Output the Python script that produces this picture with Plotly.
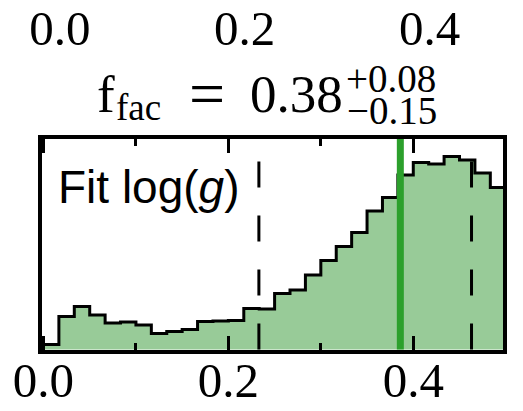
import numpy as np
import plotly.graph_objects as go

# Posterior histogram of the facula filling factor (30 bins over [0, 0.5])
bin_lo, bin_hi, n_bins = 0.0, 0.5, 30
counts = [7, 35, 45, 36.5, 28.5, 29.5, 26.5, 18, 20, 22,
          30, 30.5, 31, 43, 42.5, 58, 61.5, 76.5, 91, 105,
          119, 140.5, 154, 176.5, 189, 187.5, 195, 191.5, 178.5, 164]

# 16th / 50th / 84th percentiles and the reference value
q16, q50, q84 = 0.233, 0.383, 0.463
truth = 0.386

tick_vals = [0.0, 0.2, 0.4]
tick_text = ["0.0", "0.2", "0.4"]
panel_label = "Fit log(<i>g</i>)"

W, H = 523, 411
SERIF = "Liberation Serif"
SANS = "Liberation Sans"
FILL = "#98cb98"
GREEN = "#2ca02c"
TICK_SIZE = 49

edges = np.linspace(bin_lo, bin_hi, n_bins + 1)
step_y = list(counts) + [counts[-1]]
ymax = 1.1 * max(counts)

# plot-area geometry in pixels (axis lines are drawn just outside the area)
LW = 4
x_left, x_right = 41.5, 503.0
y_top, y_bot = 139.0, 349.5
px_per_unit = 932.5
x_range = [-(LW / 2) / px_per_unit, (x_right - x_left + LW / 2) / px_per_unit]
y_unit = ymax / ((y_bot - y_top) + LW)
y_range = [LW / 2 * y_unit, ymax - LW / 2 * y_unit]
top_shift = 16.5 / px_per_unit   # upper tick row sits a little to the right

fig = go.Figure()
fig.add_trace(go.Scatter(
    x=edges, y=step_y, mode="lines", line_shape="hv",
    line=dict(color="black", width=3),
    fill="tozeroy", fillcolor=FILL, hoverinfo="skip", showlegend=False,
))
# empty trace so the upper tick-label axis gets drawn
fig.add_trace(go.Scatter(x=[None], y=[None], xaxis="x2", yaxis="y",
                         mode="lines", hoverinfo="skip", showlegend=False))

shapes = []
for q in (q16, q84):
    shapes.append(dict(type="line", xref="x", yref="y domain", x0=q, x1=q, y0=0, y1=1,
                       line=dict(color="black", width=3, dash="26px,28px"), layer="above"))
shapes.append(dict(type="line", xref="x", yref="y domain", x0=truth, x1=truth, y0=0, y1=1,
                   line=dict(color=GREEN, width=7), layer="above"))


def px(xp):
    return xp / W


def py(yp):
    return 1 - yp / H


up = f"+{q84 - q50:.2f}"
lo = f"\u2212{q50 - q16:.2f}"
ann = [
    dict(text="f", x=px(97), y=py(64.8), xanchor="left", yanchor="top",
         font=dict(family=SERIF, size=53)),
    dict(text="fac", x=px(116.3), y=py(87.0), xanchor="left", yanchor="top",
         font=dict(family=SERIF, size=37)),
    dict(text="=", x=px(206.5), y=py(58.0), xanchor="center", yanchor="top",
         font=dict(family=SERIF, size=64)),
    dict(text=f"{q50:.2f}", x=px(343.3), y=py(64.8), xanchor="right", yanchor="top",
         font=dict(family=SERIF, size=53)),
    dict(text=up, x=px(345.5), y=py(56.95), xanchor="left", yanchor="top",
         font=dict(family=SERIF, size=39)),
    dict(text=lo, x=px(347.1), y=py(88.55), xanchor="left", yanchor="top",
         font=dict(family=SERIF, size=39)),
    dict(text=panel_label, x=px(58), y=py(161.4), xanchor="left", yanchor="top",
         font=dict(family=SANS, size=46)),
]
for a in ann:
    a.update(xref="paper", yref="paper", showarrow=False, borderpad=0, borderwidth=0)
    a["font"]["color"] = "black"

fig.update_layout(
    width=W, height=H, template="none",
    margin=dict(l=0, r=0, t=0, b=0, pad=0),
    paper_bgcolor="white", plot_bgcolor="white",
    showlegend=False, shapes=shapes, annotations=ann,
    xaxis=dict(
        domain=[x_left / W, x_right / W], range=x_range,
        showline=True, linewidth=LW, linecolor="black", mirror="ticks",
        ticks="inside", ticklen=14, tickwidth=3, tickcolor="black",
        tickvals=tick_vals, ticktext=tick_text, ticklabelstandoff=-15,
        tickfont=dict(family=SERIF, size=TICK_SIZE, color="black"),
        minor=dict(dtick=0.1, tick0=0, ticks="inside", ticklen=7, tickwidth=3,
                   tickcolor="black", showgrid=False),
        showgrid=False, zeroline=False, automargin=False,
    ),
    xaxis2=dict(
        overlaying="x", anchor="free", position=1, side="bottom",
        range=[x_range[0] - top_shift, x_range[1] - top_shift],
        tickvals=tick_vals, ticktext=tick_text, ticks="", ticklabelstandoff=-5,
        tickfont=dict(family=SERIF, size=TICK_SIZE, color="black"),
        showline=False, showgrid=False, zeroline=False, automargin=False,
    ),
    yaxis=dict(
        domain=[1 - y_bot / H, 1 - y_top / H], range=y_range,
        showline=True, linewidth=LW, linecolor="black", mirror=True,
        ticks="", showticklabels=False, showgrid=False, zeroline=False,
        automargin=False,
    ),
)

fig.write_html("out.html")
